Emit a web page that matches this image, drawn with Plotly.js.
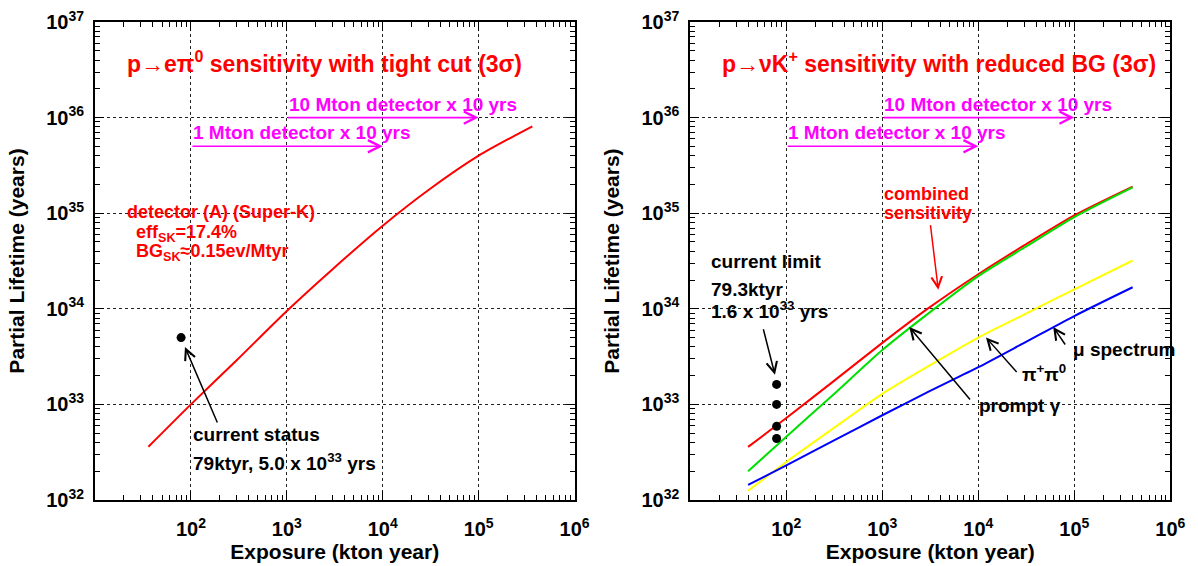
<!DOCTYPE html>
<html>
<head>
<meta charset="utf-8">
<script src="https://cdn.plot.ly/plotly-3.0.1.min.js"></script>
<style>html,body{margin:0;padding:0;background:#fff;}#chart{width:1198px;height:566px;}</style>
</head>
<body>
<div id="chart"></div>
<script>
// ---- data ----
const xEpi = [36, 100, 300, 1000, 3000, 10000, 30000, 100000, 363000];
const yEpi = [3.6e32, 1.0e33, 2.9e33, 9.5e33, 2.6e34, 7.4e34, 1.75e35, 4.0e35, 8.1e35];
const xCurrentStatus = [79];
const yCurrentStatus = [5.0e33];

const xNuK = [40, 100, 300, 1000, 3000, 10000, 30000, 100000, 405000];
const yCombined = [3.6e32, 7.2e32, 1.7e33, 4.4e33, 1.01e34, 2.3e34, 4.6e34, 9.5e34, 1.9e35];
const yPromptGamma = [2.0e32, 4.6e32, 1.23e33, 3.7e33, 8.9e33, 2.2e34, 4.35e34, 9.1e34, 1.86e35];
const yPiPi = [1.25e32, 2.5e32, 5.5e32, 1.29e33, 2.5e33, 5.0e33, 8.7e33, 1.6e34, 3.2e34];
const yMu = [1.44e32, 2.3e32, 4.1e32, 7.7e32, 1.35e33, 2.45e33, 4.4e33, 8.4e33, 1.68e34];
const xCurrentLimit = [79.3, 79.3, 79.3, 79.3];
const yCurrentLimit = [1.62e33, 1.0e33, 5.9e32, 4.4e32];

const xTickVals = [1e2, 1e3, 1e4, 1e5, 1e6];
const xTickText = ['10<sup>2</sup>', '10<sup>3</sup>', '10<sup>4</sup>', '10<sup>5</sup>', '10<sup>6</sup>'];
const yTickVals = [1e32, 1e33, 1e34, 1e35, 1e36, 1e37];
const yTickText = ['10<sup>32</sup>', '10<sup>33</sup>', '10<sup>34</sup>', '10<sup>35</sup>', '10<sup>36</sup>', '10<sup>37</sup>'];

// ---- style ----
const FONT = '"Liberation Sans", Arial, Helvetica, sans-serif';
const RED = '#ff0000', GREEN = '#00e000', YELLOW = '#ffff00', BLUE = '#0000ff', MAG = '#ff00ff';

function minorVals(e0, e1) {
  const v = [];
  for (let e = e0; e < e1; e++) for (let k = 2; k <= 9; k++) v.push(k * Math.pow(10, e));
  return v;
}
function lineStyle(color) { return {color: color, width: 2, shape: 'spline', smoothing: 0.7}; }

const traces = [
  {x: xEpi, y: yEpi, xaxis: 'x', yaxis: 'y', mode: 'lines', line: lineStyle(RED)},
  {x: xCurrentStatus, y: yCurrentStatus, xaxis: 'x', yaxis: 'y', mode: 'markers', marker: {color: '#000', size: 9}},
  {x: xNuK, y: yCombined, xaxis: 'x2', yaxis: 'y2', mode: 'lines', line: lineStyle(RED)},
  {x: xNuK, y: yPromptGamma, xaxis: 'x2', yaxis: 'y2', mode: 'lines', line: lineStyle(GREEN)},
  {x: xNuK, y: yPiPi, xaxis: 'x2', yaxis: 'y2', mode: 'lines', line: lineStyle(YELLOW)},
  {x: xNuK, y: yMu, xaxis: 'x2', yaxis: 'y2', mode: 'lines', line: lineStyle(BLUE)},
  {x: xCurrentLimit, y: yCurrentLimit, xaxis: 'x2', yaxis: 'y2', mode: 'markers', marker: {color: '#000', size: 9}}
];

function xAxis(domain, anchor) {
  return {
    type: 'log', range: [1, 6], domain: domain, anchor: anchor,
    tickmode: 'array', tickvals: xTickVals, ticktext: xTickText,
    ticks: 'inside', ticklen: 9, tickwidth: 1, tickcolor: '#000',
    minor: {tickmode: 'array', tickvals: minorVals(1, 6), ticks: 'inside', ticklen: 5, tickwidth: 1, tickcolor: '#000', showgrid: false},
    showline: true, linecolor: '#000', linewidth: 2, mirror: 'allticks',
    showgrid: true, gridcolor: '#222', griddash: 'dot', gridwidth: 1,
    zeroline: false, ticklabelstandoff: 10,
    tickfont: {family: FONT, size: 20, color: '#000', weight: 'bold'},
    title: {text: 'Exposure (kton year)', font: {family: FONT, size: 21, color: '#000', weight: 'bold'}, standoff: 5}
  };
}
function yAxis(anchor) {
  return {
    type: 'log', range: [32, 37], domain: [0.1166, 0.9611], anchor: anchor,
    tickmode: 'array', tickvals: yTickVals, ticktext: yTickText,
    ticks: 'inside', ticklen: 9, tickwidth: 1, tickcolor: '#000',
    minor: {tickmode: 'array', tickvals: minorVals(32, 37), ticks: 'inside', ticklen: 5, tickwidth: 1, tickcolor: '#000', showgrid: false},
    showline: true, linecolor: '#000', linewidth: 2, mirror: 'allticks',
    showgrid: true, gridcolor: '#222', griddash: 'dot', gridwidth: 1,
    zeroline: false, ticklabelstandoff: 5,
    tickfont: {family: FONT, size: 20, color: '#000', weight: 'bold'},
    title: {text: 'Partial Lifetime (years)', font: {family: FONT, size: 21, color: '#000', weight: 'bold'}, standoff: 16}
  };
}

function txt(xref, yref, x, y, text, color, size) {
  return {xref: xref, yref: yref, x: x, y: y, text: text, showarrow: false,
          xanchor: 'left', yanchor: 'middle',
          font: {family: FONT, size: size, color: color, weight: 'bold'}};
}
function arrow(xref, yref, x, y, ax, ay, color) {
  return {xref: xref, yref: yref, x: x, y: y, ax: ax, ay: ay, text: '', showarrow: true,
          arrowhead: 5, arrowsize: 1.4, arrowwidth: 1.5, arrowcolor: color || '#000'};
}
function hArrow(xref, yref, x0, x1, y) {
  return {xref: xref, yref: yref, axref: xref, ayref: yref, x: x1, y: y, ax: x0, ay: y,
          text: '', showarrow: true, arrowhead: 5, arrowsize: 1.5, arrowwidth: 1.6, arrowcolor: MAG};
}

const annotations = [
  // left panel
  txt('x', 'y', 1.313, 36.58, 'p→eπ<sup>0</sup> sensitivity with tight cut (3σ)', RED, 23),
  txt('x', 'y', 3.0, 36.14, '10 Mton detector x 10 yrs', MAG, 19),
  hArrow('x', 'y', 3, 5, 36),
  txt('x', 'y', 2.0, 35.84, '1 Mton detector x 10 yrs', MAG, 19),
  hArrow('x', 'y', 2, 4, 35.7),
  txt('x', 'y', 1.313, 35.01, 'detector (A) (Super-K)', RED, 18),
  txt('x', 'y', 1.405, 34.79, 'eff<sub>SK</sub>=17.4%', RED, 18),
  txt('x', 'y', 1.405, 34.59, 'BG<sub>SK</sub>≈0.15ev/Mtyr', RED, 18),
  arrow('x', 'y', 1.938, 33.60, 33, 77),
  txt('x', 'y', 2.0, 32.69, 'current status', '#000', 19),
  txt('x', 'y', 2.0, 32.40, '79ktyr, 5.0 x 10<sup>33</sup> yrs', '#000', 19),
  // right panel
  txt('x2', 'y2', 1.31, 36.58, 'p→νK<sup>+</sup> sensitivity with reduced BG (3σ)', RED, 23),
  txt('x2', 'y2', 3.0, 36.14, '10 Mton detector x 10 yrs', MAG, 19),
  hArrow('x2', 'y2', 3, 5, 36),
  txt('x2', 'y2', 2.0, 35.84, '1 Mton detector x 10 yrs', MAG, 19),
  hArrow('x2', 'y2', 2, 4, 35.7),
  txt('x2', 'y2', 3.0, 35.2, 'combined', RED, 18),
  txt('x2', 'y2', 3.0, 35.0, 'sensitivity', RED, 18),
  arrow('x2', 'y2', 3.583, 34.20, -8, -66, RED),
  txt('x2', 'y2', 1.2, 34.49, 'current limit', '#000', 19),
  txt('x2', 'y2', 1.2, 34.20, '79.3ktyr', '#000', 19),
  txt('x2', 'y2', 1.2, 33.99, '1.6 x 10<sup>33</sup> yrs', '#000', 19),
  arrow('x2', 'y2', 1.882, 33.31, -12, -47),
  txt('x2', 'y2', 3.99, 32.99, 'prompt γ', '#000', 19),
  arrow('x2', 'y2', 3.281, 33.81, 62, 74),
  txt('x2', 'y2', 4.43, 33.33, 'π<sup>+</sup>π<sup>0</sup>', '#000', 19),
  arrow('x2', 'y2', 4.08, 33.70, 32, 36),
  txt('x2', 'y2', 4.97, 33.57, 'μ spectrum', '#000', 19),
  arrow('x2', 'y2', 4.78, 33.81, 13, 19)
];

const layout = {
  width: 1198, height: 566,
  margin: {l: 0, r: 0, t: 0, b: 0},
  paper_bgcolor: '#fff', plot_bgcolor: '#fff',
  showlegend: false,
  xaxis: xAxis([0.0793, 0.4796], 'y'),
  yaxis: yAxis('x'),
  xaxis2: xAxis([0.5762, 0.9769], 'y2'),
  yaxis2: yAxis('x2'),
  annotations: annotations
};

Plotly.newPlot('chart', traces, layout, {staticPlot: true, displayModeBar: false});
</script>
</body>
</html>
